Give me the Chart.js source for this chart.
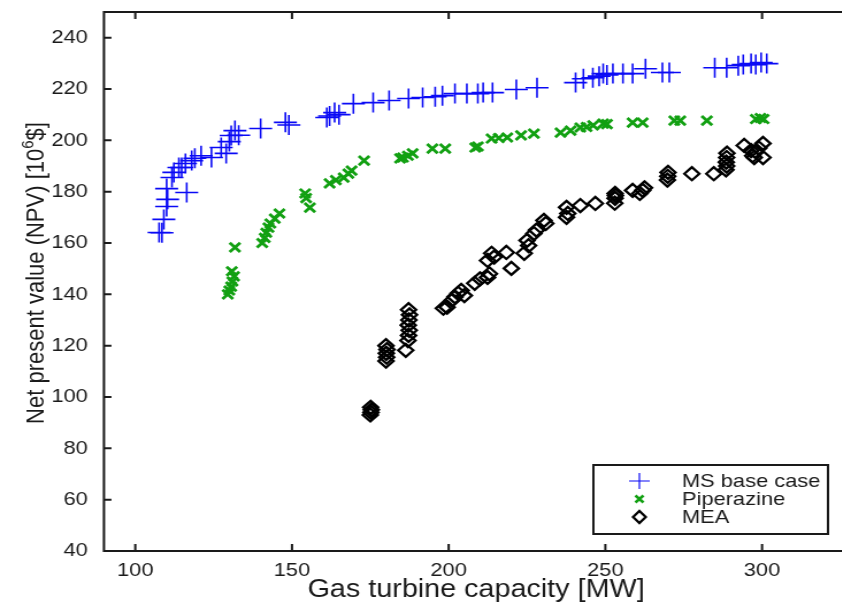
<!DOCTYPE html>
<html>
<head>
<meta charset="utf-8">
<title>NPV vs gas turbine capacity</title>
<script src="https://cdn.jsdelivr.net/npm/chart.js@4/dist/chart.umd.min.js"></script>
<style>
  html, body { margin: 0; padding: 0; background: #fff; overflow: hidden; }
  /* the figure is a little wide: stretch the whole canvas sideways */
  #wrap { width: 756px; height: 605px; transform: scaleX(1.15); transform-origin: 0 0; }
</style>
</head>
<body>
<div id="wrap"><canvas id="npvChart" width="756" height="605"></canvas></div>
<script>
// Gas turbine capacity [MW] and NPV [10^6 $] per design point
const msBaseCase = [
  [107.6, 164.1], [108.5, 164], [109.1, 169.2], [110, 174.2], [110.3, 177], [110, 181.2],
  [116.4, 179.7], [111.7, 185.5], [112.3, 187.5], [113.9, 189.4], [114.8, 189.4], [116, 191],
  [118, 192.1], [119, 193], [121, 194], [124.3, 193.3], [127.4, 197.2], [129, 194.9],
  [130, 199.5], [130.6, 201.9], [131.8, 203.8], [133, 202], [140, 204.6], [147.9, 207],
  [149, 206], [161.1, 208.9], [162, 209.5], [163.6, 210.8], [165, 210], [169.6, 214.3],
  [175.9, 214.7], [181, 215.5], [187.2, 216.3], [191.7, 216.7], [195.7, 217], [198, 217.4],
  [202, 218.2], [205.8, 218.2], [209.3, 218.2], [211, 218.6], [214, 218.6], [221.6, 219.8],
  [228.2, 220.5], [240.5, 222.5], [243, 224], [246, 224.4], [248, 225], [249.3, 226],
  [250.5, 225.5], [252.4, 226], [255.6, 226], [258.7, 226], [262.8, 227.9], [268.2, 226.4],
  [270.4, 226.4], [284.9, 228.3], [288.7, 228.3], [292.4, 229.1], [294, 229.5], [296.5, 229.9],
  [298, 229.5], [299.7, 230.3], [301.5, 229.9]
];

const piperazine = [
  [129.5, 140], [130, 141.5], [130.6, 143], [131, 145], [131.5, 147], [130.8, 149],
  [131.8, 158.3], [140.5, 160], [141.3, 162], [141.8, 164], [142.5, 166], [143.1, 167.6],
  [144.5, 169.5], [146, 171.5], [154.2, 179.3], [154.5, 177.5], [155.7, 173.8], [162, 183.2],
  [164, 184.5], [166.5, 185.5], [168, 187], [169, 188.2], [173, 192.1], [184.5, 193],
  [185.4, 193.3], [187, 194], [188.5, 194.9], [194.8, 196.8], [198.9, 196.8], [208.5, 197.2],
  [209.3, 197.6], [213.7, 200.7], [216, 200.9], [218.7, 201.1], [223.1, 201.9], [227.2, 202.6],
  [235.7, 203], [238.9, 203.8], [242, 205], [244, 205.2], [246.1, 205.8], [249.3, 206.5],
  [250.5, 206.3], [258.7, 206.9], [261.9, 206.9], [272, 207.7], [273.9, 207.7], [282.4, 207.7],
  [298, 208.3], [299.5, 208.7], [300.5, 208.3]
];

const mea = [
  [175, 93], [175.2, 94], [175.3, 95], [175.1, 96],
  [180, 114], [180.2, 115.5], [180.1, 117], [180.3, 118.5], [180, 120],
  [186.3, 118.2], [187, 122], [187.2, 124], [187.4, 126], [187.1, 128], [187.3, 130],
  [187.5, 132], [187.2, 134], [198.3, 134.6], [199.5, 135], [201.1, 137.7], [202, 139],
  [203, 140.4], [204, 141.5], [205, 139.5], [208.3, 144.3], [210, 146], [212.4, 146.6],
  [213, 148], [212.4, 153.2], [213.7, 156], [214.5, 154.5], [218.4, 156.3], [220, 150.1],
  [224.1, 156], [225, 161], [225.5, 159], [227.2, 163.7], [228, 165], [230.4, 168.8],
  [231, 167.6], [237.6, 173.9], [237.6, 170], [238, 171.5], [242, 174.6], [246.8, 175.4],
  [253, 175.5], [253.1, 177.4], [253.2, 178.5], [253.1, 179.3], [258.7, 180.5], [261.9, 180.5],
  [261, 179.3], [262.5, 181.5], [269.8, 184.5], [269.9, 186], [270, 187.5], [277.6, 187],
  [284.6, 187], [288.5, 188.5], [288.7, 190], [288.6, 191.5], [288.7, 193.3], [288.8, 195],
  [294.3, 198], [296.5, 196], [297, 194], [298, 195.5], [299, 197], [300.3, 198.8],
  [300.3, 193.3], [297.5, 193.3]
];

const seriesNames = ['MS base case', 'Piperazine', 'MEA'];
const xTicks = [100, 150, 200, 250, 300];
const yTicks = [40, 60, 80, 100, 120, 140, 160, 180, 200, 220, 240];

const FONT = "'Liberation Sans', Arial, Helvetica, sans-serif";
const INK = '#1a1a1a';
const BLUE = '#0a0af5';
const GREEN = '#12a012';

const toPoints = arr => arr.map(([x, y]) => ({ x, y }));

// axes box (left, top, bottom) with matlab-style inward ticks
const axesFrame = {
  id: 'axesFrame',
  afterDraw(chart) {
    const { ctx, chartArea: a, scales: { x, y } } = chart;
    ctx.save();
    ctx.strokeStyle = INK;
    ctx.lineCap = 'square';
    ctx.lineWidth = 2;
    ctx.beginPath();
    ctx.moveTo(a.left, a.top);
    ctx.lineTo(a.right + 10, a.top);
    ctx.moveTo(a.left, a.top);
    ctx.lineTo(a.left, a.bottom);
    ctx.lineTo(a.right + 10, a.bottom);
    xTicks.forEach(v => {
      const px = x.getPixelForValue(v);
      ctx.moveTo(px, a.bottom);
      ctx.lineTo(px, a.bottom - 6);
      ctx.moveTo(px, a.top);
      ctx.lineTo(px, a.top + 6);
    });
    yTicks.forEach(v => {
      const py = y.getPixelForValue(v);
      ctx.moveTo(a.left, py);
      ctx.lineTo(a.left + 5.5, py);
    });
    ctx.stroke();
    ctx.restore();
  }
};

// axis titles, the y one with a raised exponent
const axisTitles = {
  id: 'axisTitles',
  afterDraw(chart) {
    const { ctx } = chart;
    ctx.save();
    ctx.fillStyle = INK;
    ctx.textBaseline = 'middle';
    ctx.textAlign = 'center';
    ctx.font = `25px ${FONT}`;
    ctx.fillText('Gas turbine capacity [MW]', 414, 590);

    ctx.translate(32, 273);
    ctx.rotate(-Math.PI / 2);
    const big = `22px ${FONT}`;
    const small = `15px ${FONT}`;
    const parts = [
      ['Net present value (NPV) [10', big, 0],
      ['6', small, -7],
      ['$]', big, 0]
    ];
    let total = 0;
    parts.forEach(([t, f]) => { ctx.font = f; total += ctx.measureText(t).width; });
    let cx = -total / 2;
    ctx.textAlign = 'left';
    parts.forEach(([t, f, dy]) => {
      ctx.font = f;
      ctx.fillText(t, cx, dy);
      cx += ctx.measureText(t).width;
    });
    ctx.restore();
  }
};

// boxed legend in the lower right corner
const boxLegend = {
  id: 'boxLegend',
  afterDraw(chart) {
    const { ctx } = chart;
    const box = { x: 516, y: 465, w: 204, h: 69 };
    const rows = [481, 499, 517];
    const mx = 556, tx = 593;
    ctx.save();
    ctx.fillStyle = '#fff';
    ctx.fillRect(box.x, box.y, box.w, box.h);
    ctx.strokeStyle = INK;
    ctx.lineWidth = 2;
    ctx.strokeRect(box.x, box.y, box.w, box.h);

    // plus
    ctx.strokeStyle = BLUE;
    ctx.lineWidth = 1.2;
    ctx.beginPath();
    ctx.moveTo(mx - 9, rows[0]); ctx.lineTo(mx + 9, rows[0]);
    ctx.moveTo(mx, rows[0] - 8); ctx.lineTo(mx, rows[0] + 8);
    ctx.stroke();
    // cross
    ctx.strokeStyle = GREEN;
    ctx.lineWidth = 2.5;
    ctx.beginPath();
    ctx.moveTo(mx - 3.5, rows[1] - 3.5); ctx.lineTo(mx + 3.5, rows[1] + 3.5);
    ctx.moveTo(mx - 3.5, rows[1] + 3.5); ctx.lineTo(mx + 3.5, rows[1] - 3.5);
    ctx.stroke();
    // diamond
    ctx.strokeStyle = '#000';
    ctx.lineWidth = 2.2;
    ctx.beginPath();
    ctx.moveTo(mx - 5.5, rows[2]); ctx.lineTo(mx, rows[2] - 6);
    ctx.lineTo(mx + 5.5, rows[2]); ctx.lineTo(mx, rows[2] + 6);
    ctx.closePath();
    ctx.stroke();

    ctx.fillStyle = INK;
    ctx.font = `19px ${FONT}`;
    ctx.textAlign = 'left';
    ctx.textBaseline = 'middle';
    seriesNames.forEach((name, i) => ctx.fillText(name, tx, rows[i] + 1));
    ctx.restore();
  }
};

new Chart(document.getElementById('npvChart'), {
  type: 'scatter',
  data: {
    datasets: [
      {
        label: seriesNames[0],
        data: toPoints(msBaseCase),
        pointStyle: 'cross',
        pointRadius: 10,
        pointBorderWidth: 1.6,
        borderColor: BLUE,
        backgroundColor: BLUE
      },
      {
        label: seriesNames[1],
        data: toPoints(piperazine),
        pointStyle: 'crossRot',
        pointRadius: 6.5,
        pointBorderWidth: 2.8,
        borderColor: GREEN,
        backgroundColor: GREEN
      },
      {
        label: seriesNames[2],
        data: toPoints(mea),
        pointStyle: 'rectRot',
        pointRadius: 6.5,
        pointBorderWidth: 2.3,
        borderColor: '#000',
        backgroundColor: 'rgba(0,0,0,0)'
      }
    ]
  },
  options: {
    responsive: false,
    animation: false,
    events: [],
    layout: { padding: { left: 0, top: 12, right: 3, bottom: 0 } },
    plugins: {
      legend: { display: false },
      tooltip: { enabled: false }
    },
    scales: {
      x: {
        type: 'linear',
        min: 90,
        max: 330,
        afterBuildTicks: s => { s.ticks = xTicks.map(v => ({ value: v })); },
        afterFit: s => { s.height = 54; s.paddingLeft = 0; s.paddingRight = 0; },
        grid: { display: false, drawTicks: false },
        border: { display: false },
        ticks: { color: INK, padding: 8, maxRotation: 0, font: { family: FONT, size: 19 } }
      },
      y: {
        type: 'linear',
        min: 40,
        max: 250,
        afterBuildTicks: s => { s.ticks = yTicks.map(v => ({ value: v })); },
        afterFit: s => { s.width = 90.4; s.paddingTop = 0; s.paddingBottom = 0; },
        grid: { display: false, drawTicks: false },
        border: { display: false },
        ticks: { color: INK, padding: 14, font: { family: FONT, size: 19 } }
      }
    }
  },
  plugins: [axesFrame, axisTitles, boxLegend]
});
</script>
</body>
</html>
